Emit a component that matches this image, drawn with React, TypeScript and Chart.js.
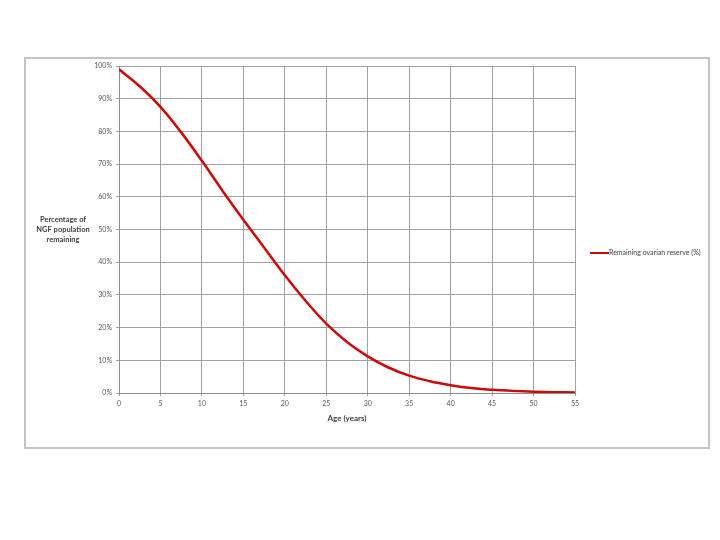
import React, { useEffect, useRef } from "react";
import { Chart, registerables } from "chart.js";

Chart.register(...registerables);

const ages = [0, 2.5, 5, 7.5, 10, 12.5, 15, 17.5, 20, 22.5, 25, 27.5, 30, 32.5, 35, 37.5, 40, 42.5, 45, 47.5, 50, 52.5, 55];
const reserve = [99, 93.8, 87.5, 79.7, 71, 61.8, 53, 44.5, 36, 28.2, 21.2, 15.6, 11.2, 7.8, 5.3, 3.6, 2.4, 1.5, 1.0, 0.65, 0.4, 0.25, 0.15];
const seriesLabel = "Remaining ovarian reserve (%)";
const yTitleLines = ["Percentage of", "NGF population", "remaining"];
const xTitle = "Age (years)";

const FONT = "Lato, 'Open Sans', sans-serif";

export default function App() {
  const ref = useRef<HTMLCanvasElement | null>(null);

  useEffect(() => {
    if (!ref.current) return;
    const extras = {
      id: "extras",
      afterDraw(chart: any) {
        const ctx = chart.ctx;
        const area = chart.chartArea;
        ctx.save();
        ctx.fillStyle = "#404040";
        ctx.font = `bold 7.5px ${FONT}`;
        ctx.textAlign = "center";
        ctx.textBaseline = "middle";
        const cy = (area.top + area.bottom) / 2;
        yTitleLines.forEach((t, i) => {
          ctx.fillText(t, 63, cy + (i - 1) * 10);
        });
        const ds = chart.data.datasets[0];
        const ly = 253;
        ctx.strokeStyle = ds.borderColor;
        ctx.lineWidth = 2;
        ctx.beginPath();
        ctx.moveTo(590, ly);
        ctx.lineTo(609, ly);
        ctx.stroke();
        ctx.fillStyle = "#404040";
        ctx.font = `7px ${FONT}`;
        ctx.textAlign = "left";
        ctx.fillText(ds.label, 609, ly);
        ctx.restore();
      },
    };

    const chart = new Chart(ref.current, {
      type: "line",
      data: {
        datasets: [
          {
            label: seriesLabel,
            data: ages.map((a, i) => ({ x: a, y: reserve[i] })),
            borderColor: "#cc0a0a",
            borderWidth: 2.5,
            pointRadius: 0,
            tension: 0.4,
            fill: false,
          },
        ],
      },
      options: {
        animation: false,
        responsive: false,
        layout: { padding: { left: 0, top: 66, right: 145, bottom: 113 } },
        plugins: { legend: { display: false }, tooltip: { enabled: false } },
        scales: {
          x: {
            type: "linear",
            min: 0,
            max: 55,
            afterFit(scale: any) {
              scale.height = 34;
            },
            ticks: {
              stepSize: 5,
              color: "#595959",
              font: { family: FONT, size: 7 },
              padding: 4,
              maxRotation: 0,
            },
            grid: { color: "#a0a0a0", lineWidth: 1, tickLength: 3 },
            border: { color: "#8c8c8c" },
            title: {
              display: true,
              text: xTitle,
              color: "#404040",
              font: { family: FONT, size: 8, weight: "bold" },
              padding: { top: 0, bottom: 4 },
            },
          },
          y: {
            min: 0,
            max: 100,
            afterFit(scale: any) {
              scale.width = 119;
            },
            ticks: {
              stepSize: 10,
              color: "#595959",
              font: { family: FONT, size: 7 },
              padding: 4,
              callback: (v: any) => `${v}%`,
            },
            grid: { color: "#a0a0a0", lineWidth: 1, tickLength: 3 },
            border: { color: "#8c8c8c" },
          },
        },
      },
      plugins: [extras],
    } as any);
    return () => chart.destroy();
  }, []);

  return (
    <div style={{ position: "absolute", left: 0, top: 0, width: 720, height: 540, background: "#fff" }}>
      <div
        style={{
          position: "absolute",
          left: 24,
          top: 57,
          width: 682,
          height: 388,
          border: "2px solid #c4c4c4",
        }}
      />
      <canvas ref={ref} width={720} height={540} style={{ position: "absolute", left: 0, top: 0 }} />
    </div>
  );
}
